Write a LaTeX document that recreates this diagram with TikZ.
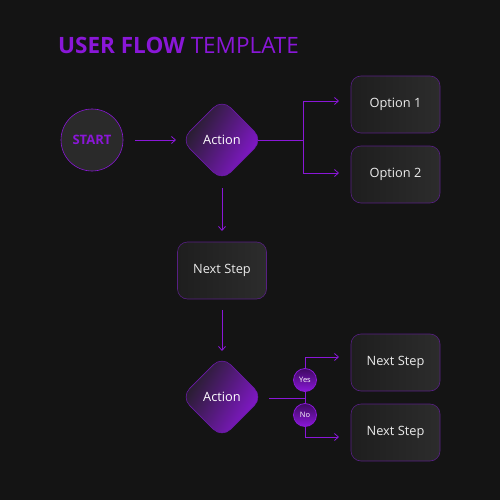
\documentclass[tikz,border=0pt]{standalone}
\usepackage{fontspec}
\setmainfont{Open Sans}
\usetikzlibrary{shapes.geometric,arrows.meta}
\definecolor{bg}{HTML}{141414}
\definecolor{vio}{HTML}{8A17D8}
\definecolor{vioedge}{HTML}{6A1AA8}
\definecolor{boxa}{HTML}{1E1E1E}
\definecolor{boxb}{HTML}{2C2C2C}
\tikzset{
  conn/.style={draw=vio, line width=0.8pt, -{Straight Barb[length=4pt,width=7pt]}},
  plainconn/.style={draw=vio, line width=0.8pt},
  dia/.style={diamond, minimum width=82pt, minimum height=82pt, inner sep=0pt, rounded corners=12pt,
     draw=vioedge, line width=0.6pt, left color=boxa, right color=vio, shading angle=60, text=white, font=\fontsize{12.8}{15}\selectfont},
  card/.style={rectangle, rounded corners=10pt, minimum width=89pt, minimum height=57pt, draw=vioedge!70!boxb, line width=0.6pt,
     left color=boxa, right color=boxb, text=white!92!black, font=\fontsize{12.8}{15}\selectfont},
  yn/.style={circle, minimum size=23pt, inner sep=0pt, draw=vio, line width=0.8pt, top color=vio!45!black, bottom color=vio,
     text=white, font=\fontsize{7.5}{9}\selectfont},
}
\begin{document}
\begin{tikzpicture}[x=1pt,y=-1pt]
\fill[bg] (0,0) rectangle (500,500);
\useasboundingbox (0,0) rectangle (500,500);
\node[anchor=base west, text=vio, inner sep=0pt, font=\fontsize{22.5}{26}\selectfont] (title) at (58,54) {\textbf{USER FLOW}\ TEMPLATE};
\node[circle, minimum size=62pt, inner sep=0pt, draw=vio, line width=0.6pt, fill=boxb!85!boxa, text=vio, font=\fontsize{13}{15}\selectfont\bfseries] (start) at (92,140) {START};
\node[dia] (act1) at (222,140) {Action};
\node[card] (opt1) at (395.5,104.5) {Option 1};
\node[card] (opt2) at (395.5,174.5) {Option 2};
\node[card] (next1) at (222,270.5) {Next Step};
\node[dia] (act2) at (222,397) {Action};
\node[card] (next2) at (395.5,362.5) {Next Step};
\node[card] (next3) at (395.5,432.5) {Next Step};
\coordinate (s1) at (135,140);
\coordinate (s2) at (176,140);
\draw[conn] (s1) -- (s2);
\coordinate (a1e) at (258,140);
\coordinate (b1) at (303,140);
\coordinate (b1t) at (303,101);
\coordinate (b1b) at (303,173);
\coordinate (o1) at (339,101);
\coordinate (o2) at (339,173);
\draw[plainconn] (a1e) -- (b1);
\draw[conn] (b1) -- (b1t) -- (o1);
\draw[conn] (b1) -- (b1b) -- (o2);
\coordinate (d1a) at (222,188);
\coordinate (d1b) at (222,231);
\draw[conn] (d1a) -- (d1b);
\coordinate (d2a) at (222,310);
\coordinate (d2b) at (222,351);
\draw[conn] (d2a) -- (d2b);
\coordinate (a2e) at (269,398);
\coordinate (b2) at (305,398);
\coordinate (b2t) at (305,357);
\coordinate (b2b) at (305,437);
\coordinate (n2) at (339,357);
\coordinate (n3) at (339,437);
\draw[plainconn] (a2e) -- (b2);
\draw[conn] (b2) -- (b2t) -- (n2);
\draw[conn] (b2) -- (b2b) -- (n3);
\node[yn] (yes) at (305,380) {Yes};
\node[yn] (no) at (305,415) {No};
\end{tikzpicture}
\end{document}
